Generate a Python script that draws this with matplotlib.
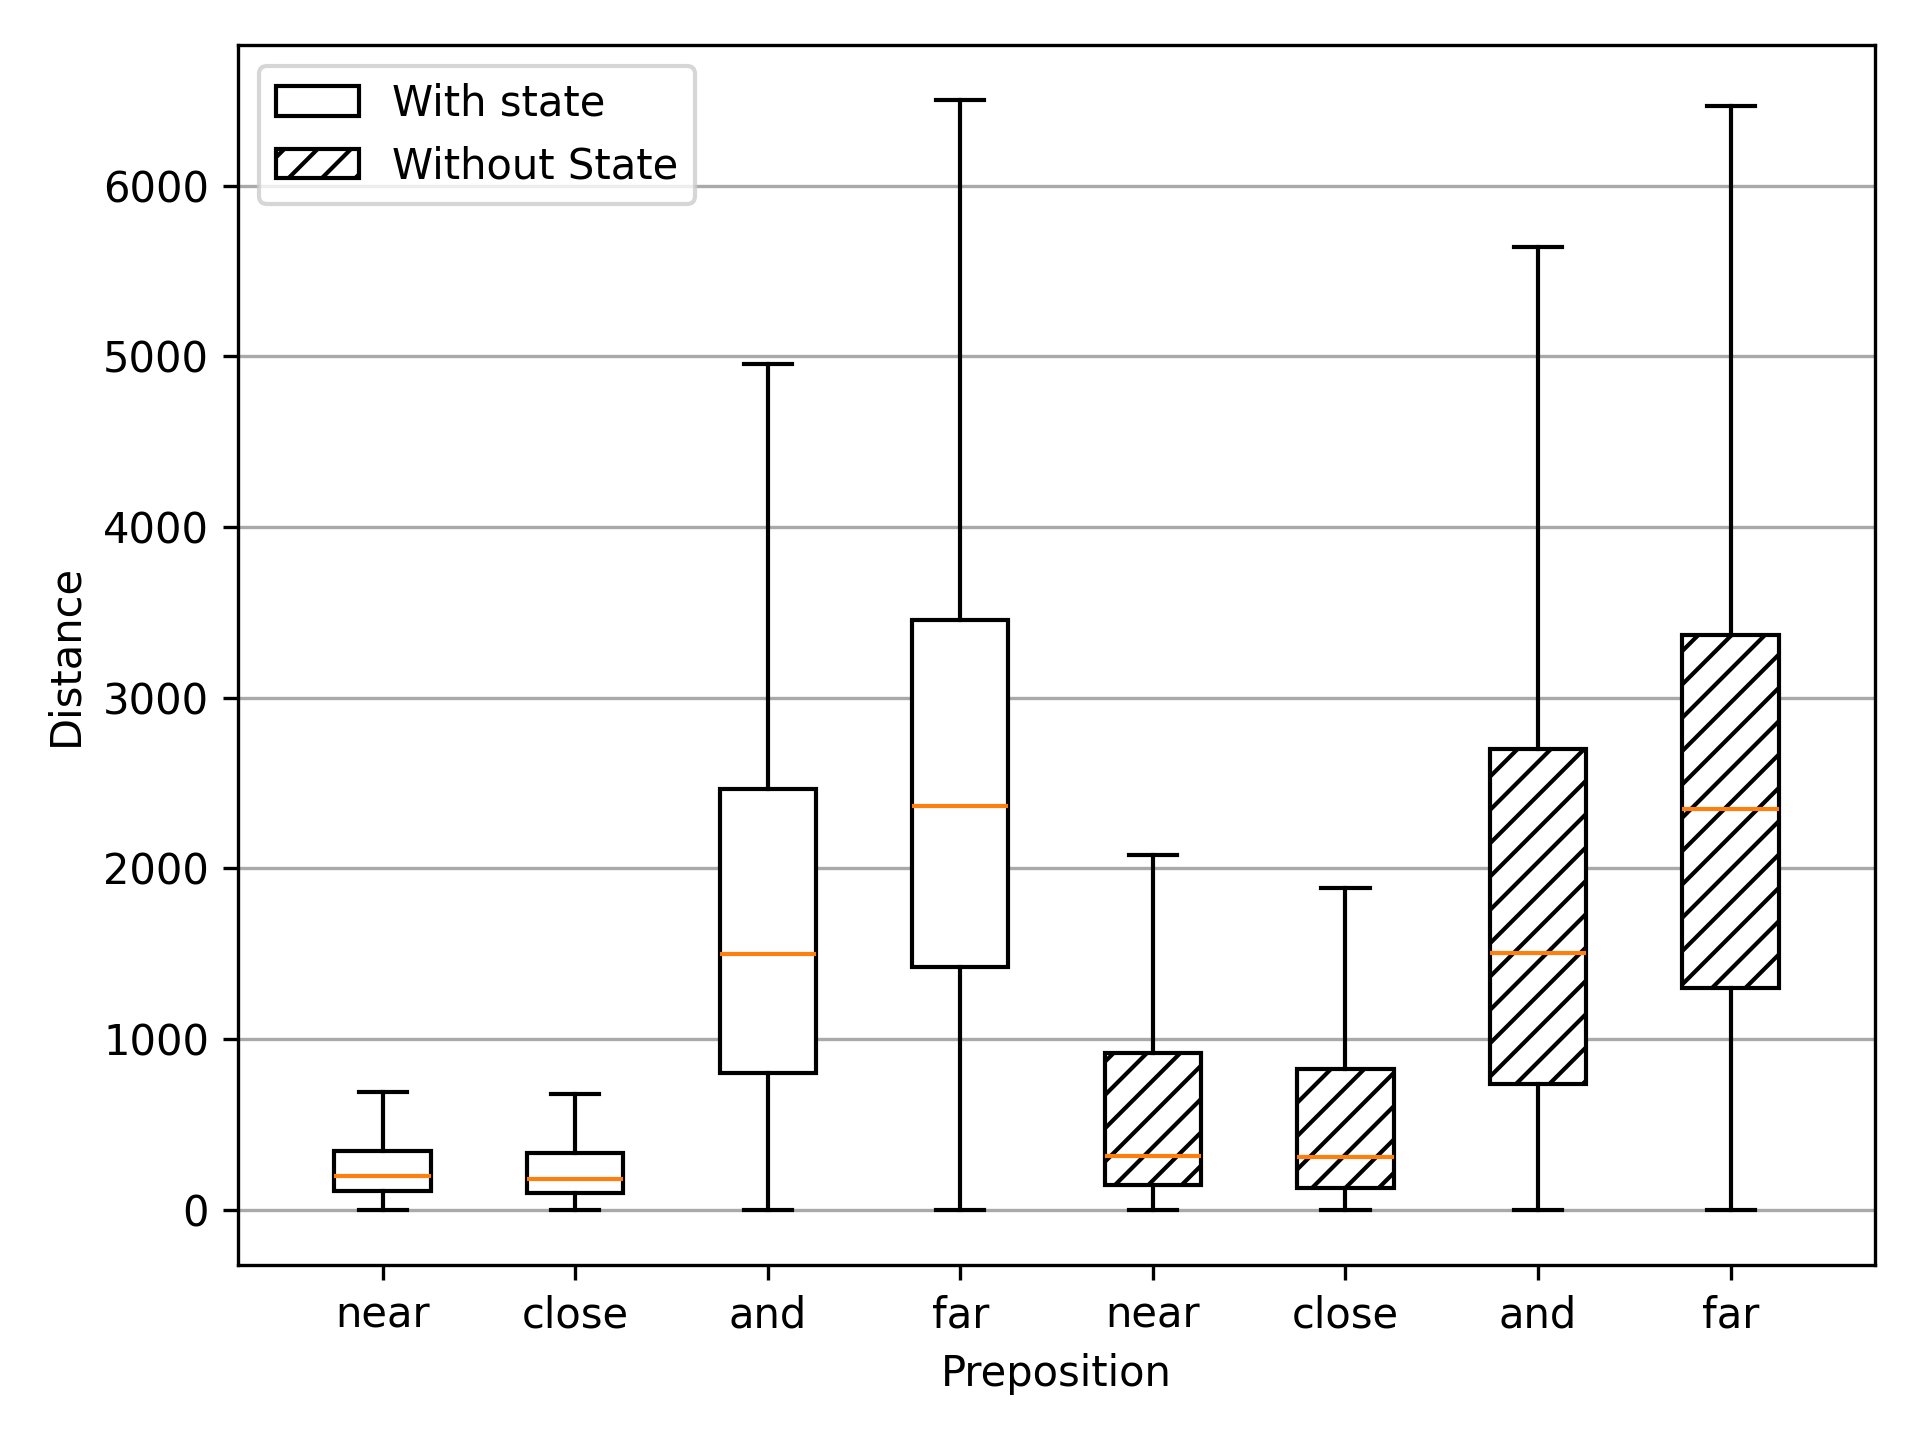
import matplotlib
matplotlib.use('Agg')
import matplotlib.pyplot as plt
from matplotlib.patches import Patch

labels = ['near', 'close', 'and', 'far', 'near', 'close', 'and', 'far']
whislo = [0, 0, 0, 0, 0, 0, 0, 0]
q1 = [110, 100, 800, 1420, 145, 125, 735, 1300]
med = [195, 180, 1500, 2365, 315, 310, 1505, 2350]
q3 = [345, 330, 2465, 3455, 920, 825, 2700, 3370]
whishi = [690, 680, 4955, 6500, 2080, 1885, 5640, 6470]
hatched = [False, False, False, False, True, True, True, True]

stats = []
for i in range(len(labels)):
    stats.append(dict(label=labels[i], whislo=whislo[i], q1=q1[i], med=med[i],
                      q3=q3[i], whishi=whishi[i], fliers=[]))

fig, ax = plt.subplots(figsize=(6.4, 4.8))
bp = ax.bxp(stats, patch_artist=True, showfliers=False)
for box, h in zip(bp['boxes'], hatched):
    box.set_facecolor('white')
    box.set_edgecolor('black')
    if h:
        box.set_hatch('///')

ax.set_xlim(0.25, len(labels) + 0.75)
ax.yaxis.grid(True, color='darkgray')
ax.set_axisbelow(True)
ax.set_xlabel('Preposition')
ax.set_ylabel('Distance')

handles = [Patch(facecolor='white', edgecolor='black', label='With state'),
           Patch(facecolor='white', edgecolor='black', hatch='///', label='Without State')]
ax.legend(handles=handles, loc='upper left')

fig.tight_layout()
fig.savefig('out.png', dpi=300)
